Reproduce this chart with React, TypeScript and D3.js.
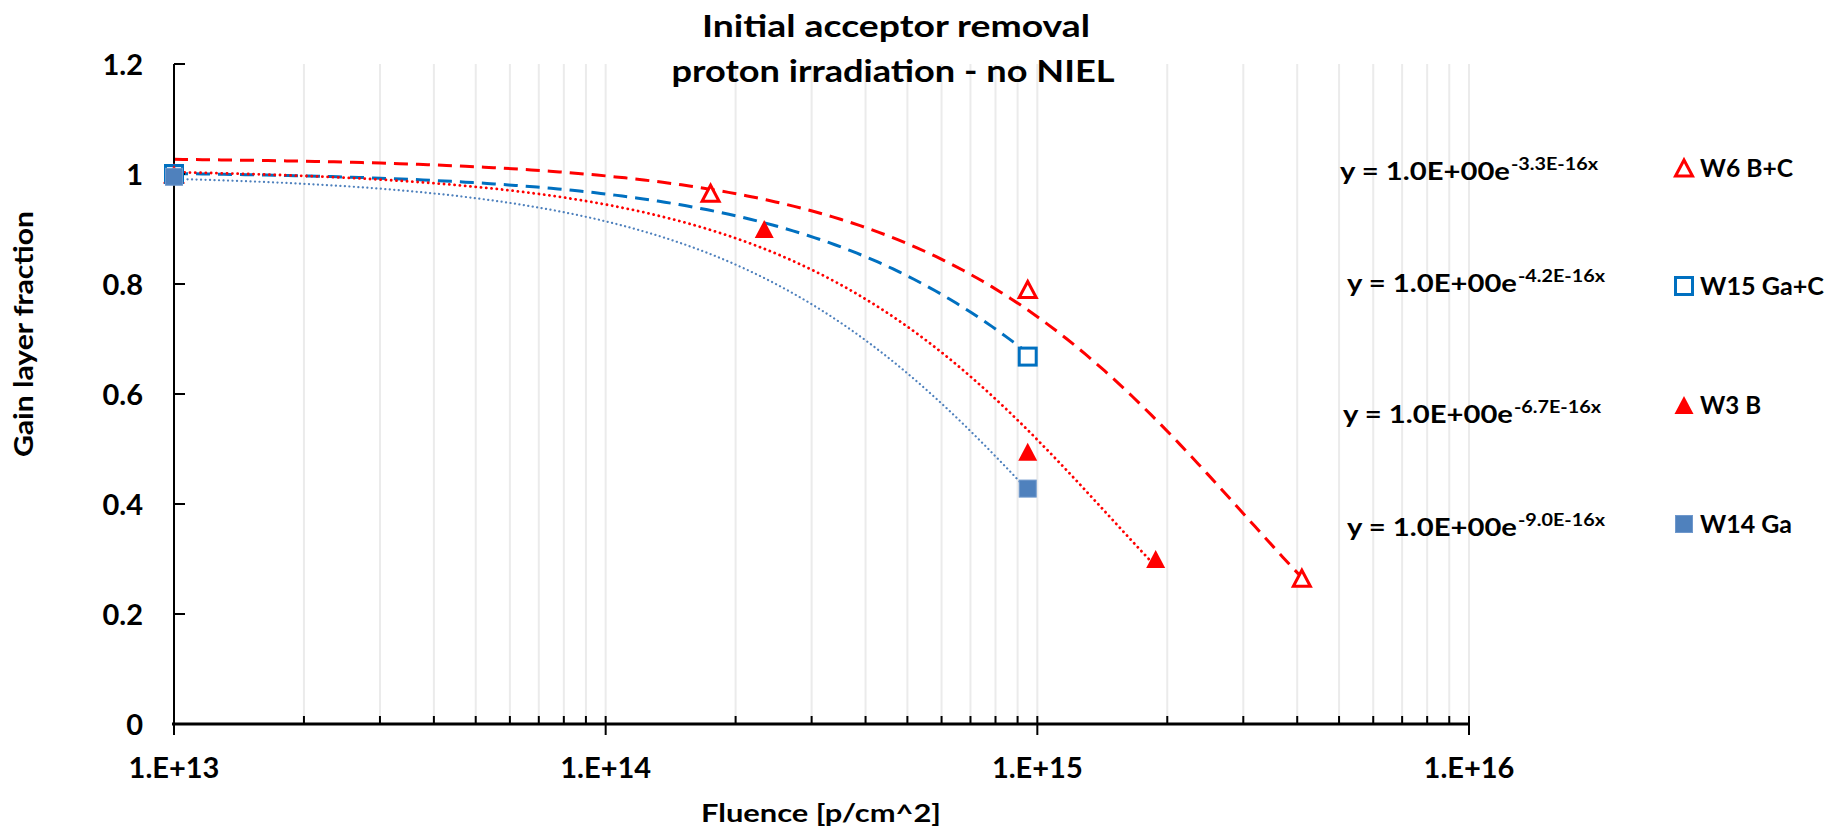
import * as d3 from 'd3';

// series: fluence [p/cm^2] and gain layer fraction
const seriesNames = ['W6 B+C', 'W15 Ga+C', 'W3 B', 'W14 Ga'];
const fluenceW6 = [1e13, 1.75e14, 9.5e14, 4.1e15];
const fractionW6 = [1.0, 0.965, 0.79, 0.265];
const fluenceW15 = [1e13, 9.5e14];
const fractionW15 = [1.0, 0.668];
const fluenceW3 = [1e13, 2.33e14, 9.5e14, 1.88e15];
const fractionW3 = [1.0, 0.9, 0.495, 0.3];
const fluenceW14 = [1e13, 9.5e14];
const fractionW14 = [0.995, 0.428];

// exponential trendline fits y = a * exp(b * x)
const fitA = [1.03, 1.005, 1.01, 1.0];
const fitB = [-3.3e-16, -4.2e-16, -6.7e-16, -9.0e-16];
const fitLabels = ['-3.3E-16x', '-4.2E-16x', '-6.7E-16x', '-9.0E-16x'];

const xTicks = [1e13, 1e14, 1e15, 1e16];
const xTickLabels = ['1.E+13', '1.E+14', '1.E+15', '1.E+16'];
const yTicks = [0, 0.2, 0.4, 0.6, 0.8, 1.0, 1.2];

const W = 1831;
const H = 833;
const FONT = 'Lato, "Open Sans", sans-serif';

const RED = '#ff0000';
const BLUE = '#0070c0';
const STEEL = '#4f81bd';

function Txt(props: {
  x: number;
  y: number;
  size: number;
  len?: number;
  anchor?: string;
  rotate?: number;
  children: any;
}) {
  const { x, y, size, len, anchor = 'start', rotate = 0 } = props;
  return (
    <text
      transform={`translate(${x},${y}) rotate(${rotate})`}
      textAnchor={anchor}
      fontFamily={FONT}
      fontWeight={700}
      fontSize={size}
      fill="#000"
      textLength={len}
      lengthAdjust={len ? 'spacingAndGlyphs' : undefined}
    >
      {props.children}
    </text>
  );
}

function triangle(cx: number, cy: number, w: number, h: number) {
  return `M${cx},${cy - h / 2}L${cx + w / 2},${cy + h / 2}L${cx - w / 2},${cy + h / 2}Z`;
}

function Marker({ kind, cx, cy }: { kind: number; cx: number; cy: number }) {
  if (kind === 0)
    return <path d={triangle(cx, cy, 17, 16)} fill="#fff" stroke={RED} strokeWidth={3} />;
  if (kind === 1)
    return <rect x={cx - 8.5} y={cy - 8.5} width={17} height={17} fill="#fff" stroke={BLUE} strokeWidth={3} />;
  if (kind === 2) return <path d={triangle(cx, cy, 19, 18)} fill={RED} />;
  return <rect x={cx - 8.5} y={cy - 8.5} width={17} height={17} fill={STEEL} stroke="#6f98cc" strokeWidth={1} />;
}

export default function App() {
  const x = d3.scaleLog().domain([1e13, 1e16]).range([174, 1469]);
  const y = d3.scaleLinear().domain([0, 1.2]).range([724, 64]);

  const series = [
    { xs: fluenceW6, ys: fractionW6 },
    { xs: fluenceW15, ys: fractionW15 },
    { xs: fluenceW3, ys: fractionW3 },
    { xs: fluenceW14, ys: fractionW14 },
  ];

  // minor + major gridline positions
  const grid: number[] = [];
  for (let e = 13; e < 16; e++) {
    for (let m = 1; m <= 9; m++) grid.push(m * Math.pow(10, e));
  }
  grid.push(1e16);

  const lineStyles = [
    { stroke: RED, width: 3, dash: '14 8', cap: 'butt' },
    { stroke: BLUE, width: 3, dash: '14 8', cap: 'butt' },
    { stroke: RED, width: 2.8, dash: '0.1 5.2', cap: 'round' },
    { stroke: STEEL, width: 2.2, dash: '0.1 4.4', cap: 'round' },
  ];

  // trendline over each series' fluence range
  const trend = series.map((s, k) => {
    const lo = Math.log10(s.xs[0]);
    const hi = Math.log10(s.xs[s.xs.length - 1]);
    const pts = d3.range(0, 121).map((i) => Math.pow(10, lo + ((hi - lo) * i) / 120));
    return d3
      .line<number>()
      .x((d) => x(d))
      .y((d) => y(fitA[k] * Math.exp(fitB[k] * d)))(pts);
  });

  const eqX = [1340, 1347, 1343, 1347];
  const eqY = [180, 292, 423, 536];
  const legY = [177, 295, 414, 533];
  const legMarkY = [168, 286, 405, 524];
  const legLen = [93, 124, 61, 92];

  return (
    <svg width={W} height={H} style={{ position: 'absolute', left: 0, top: 0, background: '#fff' }}>
      {/* gridlines */}
      {grid.map((g, i) => (
        <line key={'g' + i} x1={x(g)} x2={x(g)} y1={y(1.2)} y2={y(0)} stroke="#ebebeb" strokeWidth={2} />
      ))}

      {/* trendlines */}
      {trend.map((d, k) => (
        <path
          key={'t' + k}
          d={d || ''}
          fill="none"
          stroke={lineStyles[k].stroke}
          strokeWidth={lineStyles[k].width}
          strokeDasharray={lineStyles[k].dash}
          strokeLinecap={lineStyles[k].cap as any}
        />
      ))}

      {/* axes */}
      <line x1={x(1e13)} x2={x(1e13)} y1={y(1.2)} y2={735} stroke="#000" strokeWidth={2} />
      {yTicks.map((t) => (
        <line key={'yt' + t} x1={x(1e13)} x2={x(1e13) + 11} y1={y(t)} y2={y(t)} stroke="#000" strokeWidth={2} />
      ))}
      {grid
        .filter((g) => g > 1e13)
        .map((g, i) => {
          const major = Math.abs(Math.log10(g) % 1) < 1e-9;
          return (
            <line key={'xt' + i} x1={x(g)} x2={x(g)} y1={y(0) - 8} y2={major ? y(0) + 11 : y(0)} stroke="#000" strokeWidth={2} />
          );
        })}
      <line x1={x(1e13) - 2} x2={x(1e16)} y1={y(0)} y2={y(0)} stroke="#000" strokeWidth={3} />

      {/* tick labels */}
      {yTicks.map((t) => (
        <Txt key={'yl' + t} x={143} y={y(t) + 10.5} size={29} anchor="end">
          {d3.format('~g')(t)}
        </Txt>
      ))}
      {xTicks.map((t, i) => (
        <Txt key={'xl' + i} x={x(t)} y={778} size={29} anchor="middle">
          {xTickLabels[i]}
        </Txt>
      ))}

      {/* titles */}
      <Txt x={896} y={37} size={31} len={388} anchor="middle">
        Initial acceptor removal
      </Txt>
      <Txt x={893} y={82} size={31} len={443} anchor="middle">
        proton irradiation - no NIEL
      </Txt>
      <Txt x={821} y={822} size={25} len={240} anchor="middle">
        Fluence [p/cm^2]
      </Txt>
      <Txt x={33} y={334} size={26} len={246} anchor="middle" rotate={-90}>
        Gain layer fraction
      </Txt>

      {/* markers */}
      {series.map((s, k) =>
        s.xs.map((v, i) => <Marker key={'m' + k + '-' + i} kind={k} cx={x(v)} cy={y(s.ys[i])} />),
      )}

      {/* trendline equations */}
      {fitLabels.map((lab, k) => (
        <g key={'eq' + k}>
          <Txt x={eqX[k]} y={eqY[k]} size={25} len={170}>
            y = 1.0E+00e
          </Txt>
          <Txt x={eqX[k] + 171} y={eqY[k] - 10} size={16.5} len={87}>
            {lab}
          </Txt>
        </g>
      ))}

      {/* legend */}
      {seriesNames.map((n, k) => (
        <g key={'lg' + k}>
          <Marker kind={k} cx={1684} cy={legMarkY[k]} />
          <Txt x={1700} y={legY[k]} size={24} len={legLen[k]}>
            {n}
          </Txt>
        </g>
      ))}
    </svg>
  );
}
